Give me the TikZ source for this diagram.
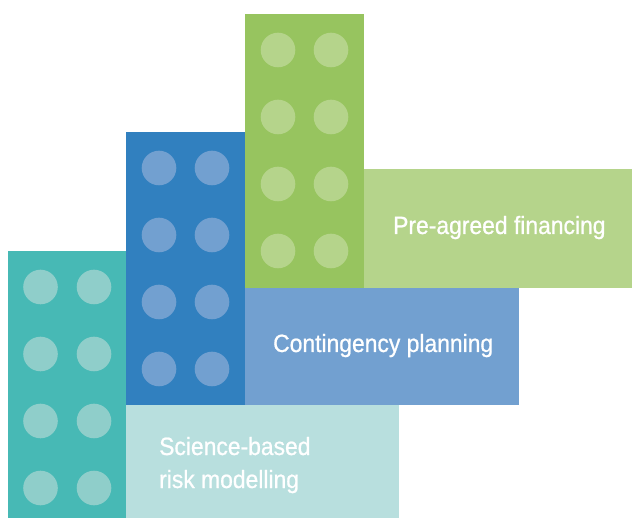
\documentclass[tikz,border=0pt]{standalone}
\usepackage{fontspec}
\newfontfamily\cnd{Liberation Sans}[FakeStretch=0.915,FakeBold=0.8]
\definecolor{teal1}{HTML}{47B9B5}
\definecolor{teal2}{HTML}{8FCECA}
\definecolor{teal3}{HTML}{B8DFDE}
\definecolor{blue1}{HTML}{3180BF}
\definecolor{blue2}{HTML}{72A0D0}
\definecolor{green1}{HTML}{97C45F}
\definecolor{green2}{HTML}{B5D48B}
\begin{document}
\begin{tikzpicture}[x=1pt,y=-1pt,
  lbl/.style={anchor=base west,inner sep=0pt,text=white,font=\cnd\fontsize{25}{33}\selectfont,align=left}]
\useasboundingbox (0,0) rectangle (632,518);
% columns
\fill[teal1] (8,251) rectangle (126,518);
\fill[blue1] (126,132) rectangle (245,405);
\fill[green1] (245,14) rectangle (364,288);
% bars
\fill[teal3] (126,405) rectangle (399,518);
\fill[blue2] (245,288) rectangle (519,405);
\fill[green2] (364,169) rectangle (632,288);
% studs
\foreach \y in {287,354,421,488} {
  \fill[teal2] (40.5,\y) circle (17.3);
  \fill[teal2] (94,\y) circle (17.3);
}
\foreach \y in {168,235,302,369} {
  \fill[blue2] (159,\y) circle (17.3);
  \fill[blue2] (212,\y) circle (17.3);
}
\foreach \y in {50,117,184,251} {
  \fill[green2] (278,\y) circle (17.3);
  \fill[green2] (331,\y) circle (17.3);
}
\node[lbl] (fin) at (393,234) {Pre-agreed financing};
\node[lbl] (cont) at (273,352) {Contingency planning};
\node[lbl] (sci) at (159,455) {Science-based};
\node[lbl] (risk) at (159,488) {risk modelling};
\end{tikzpicture}
\end{document}
